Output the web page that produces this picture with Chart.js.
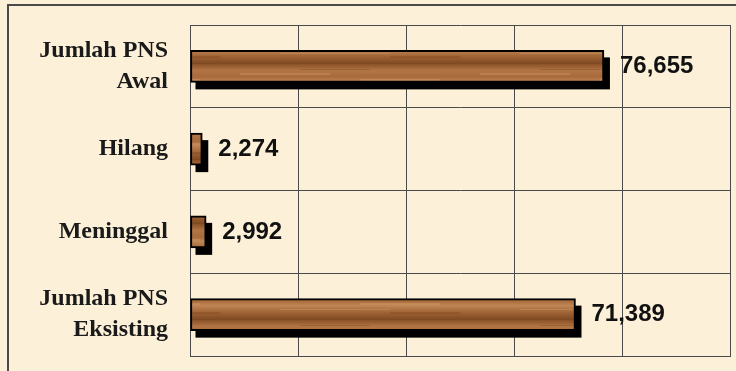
<!DOCTYPE html>
<html>
<head>
<meta charset="utf-8">
<script src="https://cdn.jsdelivr.net/npm/chart.js@4"></script>
<style>
  html, body { margin: 0; padding: 0; }
  body { width: 736px; height: 371px; overflow: hidden; background: #fcf1d8; position: relative; }
  #frame { position: absolute; left: 7px; top: 4px; width: 800px; height: 420px;
           border-left: 2px solid #4a4a4a; border-top: 2px solid #4a4a4a; }
  #wrap { position: absolute; left: 0; top: 0; width: 736px; height: 371px; }
</style>
</head>
<body>
<div id="frame"></div>
<div id="wrap"><canvas id="barChart" width="736" height="371"></canvas></div>
<script>
const categories = [['Jumlah PNS', 'Awal'], 'Hilang', 'Meninggal', ['Jumlah PNS', 'Eksisting']];
const values = [76655, 2274, 2992, 71389];
const axisMax = 100000;
const axisStep = 20000;

// wood grain fill, stripes run along the bar
function woodPattern() {
    const c = document.createElement('canvas');
    c.width = 240; c.height = 32;
    const g = c.getContext('2d');
    const grad = g.createLinearGradient(0, 0, 0, 32);
    grad.addColorStop(0, '#8a5226');
    grad.addColorStop(0.2, '#b27545');
    grad.addColorStop(0.4, '#a86a3a');
    grad.addColorStop(0.55, '#c08656');
    grad.addColorStop(0.75, '#a26536');
    grad.addColorStop(1, '#7e4820');
    g.fillStyle = grad;
    g.fillRect(0, 0, 240, 32);
    g.globalAlpha = 0.25;
    g.fillStyle = '#e0b080';
    g.fillRect(0, 9, 90, 2);
    g.fillRect(120, 15, 80, 2);
    g.fillRect(40, 21, 110, 1);
    g.fillStyle = '#6a3a18';
    g.fillRect(60, 5, 70, 1);
    g.fillRect(150, 24, 70, 2);
    return g.createPattern(c, 'repeat');
}

// solid black drop shadow under each bar
const shadowPlugin = {
    id: 'barShadow',
    beforeDatasetDraw(chart, args) {
        const ctx = chart.ctx;
        ctx.save();
        ctx.fillStyle = '#000';
        args.meta.data.forEach(bar => {
            const p = bar.getProps(['x', 'y', 'base', 'height'], true);
            ctx.fillRect(p.base + 5, p.y - p.height / 2 + 7, p.x - p.base + 1, p.height);
        });
        ctx.restore();
    }
};

const valueLabels = {
    id: 'valueLabels',
    afterDatasetsDraw(chart) {
        const ctx = chart.ctx;
        const meta = chart.getDatasetMeta(0);
        ctx.save();
        ctx.font = 'bold 24px "Liberation Sans", Arial, sans-serif';
        ctx.fillStyle = '#111';
        ctx.textAlign = 'left';
        ctx.textBaseline = 'middle';
        meta.data.forEach((bar, i) => {
            ctx.fillText(values[i].toLocaleString('en-US'), bar.x + 16, bar.y);
        });
        ctx.restore();
    }
};

const ctx = document.getElementById('barChart').getContext('2d');
new Chart(ctx, {
    type: 'bar',
    data: {
        labels: categories,
        datasets: [{
            data: values,
            backgroundColor: woodPattern(),
            borderColor: '#000',
            borderWidth: 2,
            borderSkipped: false,
            barThickness: 32
        }]
    },
    options: {
        indexAxis: 'y',
        responsive: false,
        animation: false,
        layout: { padding: { top: 25, right: 6, bottom: 15, left: 0 } },
        plugins: { legend: { display: false }, tooltip: { enabled: false } },
        scales: {
            x: {
                min: 0,
                max: axisMax,
                ticks: { display: false, stepSize: axisStep },
                grid: { color: '#4a4a4a', lineWidth: 1, drawTicks: false },
                border: { color: '#4a4a4a' }
            },
            y: {
                afterFit(s) { s.width = 190; s.paddingTop = 0; s.paddingBottom = 0; },
                ticks: {
                    color: '#1a1a1a',
                    padding: 22,
                    font: { family: '"Liberation Serif", "Times New Roman", serif', size: 24, weight: 'bold', lineHeight: 1.3 }
                },
                grid: { color: '#4a4a4a', lineWidth: 1, drawTicks: false },
                border: { color: '#4a4a4a' }
            }
        }
    },
    plugins: [shadowPlugin, valueLabels]
});
</script>
</body>
</html>
